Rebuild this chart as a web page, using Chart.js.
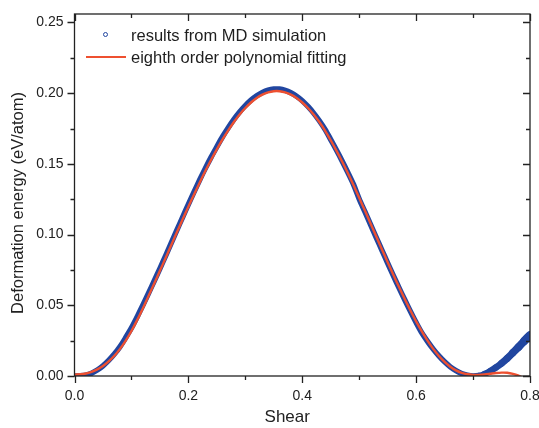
<!DOCTYPE html>
<html>
<head>
<meta charset="utf-8">
<script src="https://cdn.jsdelivr.net/npm/chart.js@4.4.1/dist/chart.umd.min.js"></script>
<style>
	html, body { margin: 0; padding: 0; background: #fff; }
	#wrap { position: relative; width: 539px; height: 428px; font-family: "Liberation Sans", Arial, sans-serif; }
	#legend { position: absolute; left: 84px; top: 24px; font-size: 16.5px; color: #1e1e1e; line-height: 22px; }
	#legend .row { display: flex; align-items: center; height: 22px; }
	#legend .sym { position: relative; width: 44px; height: 22px; margin-right: 3px; }
	#legend .dot { position: absolute; left: 19px; top: 8px; width: 3px; height: 3px; border: 1.2px solid #2146a0; border-radius: 50%; }
	#legend .ln { position: absolute; left: 2px; top: 10px; width: 40px; height: 2.4px; background: #ee5030; }
</style>
</head>
<body>
<div id="wrap">
	<canvas id="chart" width="539" height="428"></canvas>
	<div id="legend">
		<div class="row"><span class="sym"><span class="dot"></span></span>results from MD simulation</div>
		<div class="row"><span class="sym"><span class="ln"></span></span>eighth order polynomial fitting</div>
	</div>
</div>
<script>
( function () {
	'use strict';

	// shear values of the MD samples (every 0.01)
	var shear = [
		0.00, 0.01, 0.02, 0.03, 0.04, 0.05, 0.06, 0.07, 0.08, 0.09,
		0.10, 0.11, 0.12, 0.13, 0.14, 0.15, 0.16, 0.17, 0.18, 0.19,
		0.20, 0.21, 0.22, 0.23, 0.24, 0.25, 0.26, 0.27, 0.28, 0.29,
		0.30, 0.31, 0.32, 0.33, 0.34, 0.35, 0.36, 0.37, 0.38, 0.39,
		0.40, 0.41, 0.42, 0.43, 0.44, 0.45, 0.46, 0.47, 0.48, 0.49,
		0.50, 0.51, 0.52, 0.53, 0.54, 0.55, 0.56, 0.57, 0.58, 0.59,
		0.60, 0.61, 0.62, 0.63, 0.64, 0.65, 0.66, 0.67, 0.68, 0.69,
		0.70, 0.71, 0.72, 0.73, 0.74, 0.75, 0.76, 0.77, 0.78, 0.79,
		0.80
	];

	// MD deformation energy (eV/atom)
	var mdEnergy = [
		0.0000, 0.0001, 0.0006, 0.0020, 0.0042, 0.0072, 0.0110, 0.0155, 0.0208, 0.0272,
		0.0340, 0.0418, 0.0500, 0.0585, 0.0672, 0.0760, 0.0850, 0.0942, 0.1033, 0.1124,
		0.1214, 0.1302, 0.1388, 0.1470, 0.1548, 0.1621, 0.1692, 0.1756, 0.1815, 0.1867,
		0.1912, 0.1951, 0.1982, 0.2005, 0.2021, 0.2029, 0.2029, 0.2020, 0.2003, 0.1979,
		0.1947, 0.1906, 0.1859, 0.1805, 0.1744, 0.1672, 0.1598, 0.1521, 0.1440, 0.1355,
		0.1252, 0.1162, 0.1071, 0.0979, 0.0889, 0.0798, 0.0710, 0.0623, 0.0539, 0.0457,
		0.0378, 0.0305, 0.0245, 0.0190, 0.0142, 0.0100, 0.0065, 0.0038, 0.0018, 0.0006,
		0.0000, 0.0003, 0.0015, 0.0035, 0.0060, 0.0090, 0.0125, 0.0165, 0.0205, 0.0248,
		0.0290
	];

	// polynomial fit, stops a little before 0.8
	var fitShear = [
		0.00, 0.01, 0.02, 0.03, 0.04, 0.05, 0.06, 0.07, 0.08, 0.09,
		0.10, 0.11, 0.12, 0.13, 0.14, 0.15, 0.16, 0.17, 0.18, 0.19,
		0.20, 0.21, 0.22, 0.23, 0.24, 0.25, 0.26, 0.27, 0.28, 0.29,
		0.30, 0.31, 0.32, 0.33, 0.34, 0.35, 0.36, 0.37, 0.38, 0.39,
		0.40, 0.41, 0.42, 0.43, 0.44, 0.45, 0.46, 0.47, 0.48, 0.49,
		0.50, 0.51, 0.52, 0.53, 0.54, 0.55, 0.56, 0.57, 0.58, 0.59,
		0.60, 0.61, 0.62, 0.63, 0.64, 0.65, 0.66, 0.67, 0.68, 0.69,
		0.70, 0.71, 0.72, 0.73, 0.74, 0.75, 0.76, 0.77, 0.78, 0.785
	];
	var fitEnergy = [
		0.0010, 0.0012, 0.0018, 0.0030, 0.0047, 0.0071, 0.0103, 0.0143, 0.0192, 0.0250,
		0.0318, 0.0395, 0.0478, 0.0565, 0.0654, 0.0744, 0.0835, 0.0927, 0.1018, 0.1108,
		0.1197, 0.1284, 0.1369, 0.1451, 0.1529, 0.1603, 0.1673, 0.1737, 0.1796, 0.1849,
		0.1895, 0.1934, 0.1966, 0.1990, 0.2006, 0.2014, 0.2014, 0.2006, 0.1990, 0.1966,
		0.1934, 0.1895, 0.1849, 0.1796, 0.1736, 0.1667, 0.1594, 0.1517, 0.1436, 0.1350,
		0.1260, 0.1170, 0.1078, 0.0986, 0.0895, 0.0805, 0.0716, 0.0629, 0.0544, 0.0463,
		0.0386, 0.0315, 0.0250, 0.0192, 0.0142, 0.0100, 0.0066, 0.0040, 0.0022, 0.0012,
		0.0008, 0.0008, 0.0011, 0.0016, 0.0021, 0.0024, 0.0023, 0.0015, 0.0002, -0.0008
	];

	var xMajor = [ 0.0, 0.2, 0.4, 0.6, 0.8 ];
	var xMinor = [ 0.1, 0.3, 0.5, 0.7 ];
	var yMajor = [ 0.00, 0.05, 0.10, 0.15, 0.20, 0.25 ];
	var yMinor = [ 0.025, 0.075, 0.125, 0.175, 0.225 ];

	var X_TITLE = 'Shear';
	var Y_TITLE = 'Deformation energy (eV/atom)';

	var FONT  = '"Liberation Sans", Arial, sans-serif';
	var INK   = '#222';
	var BLUE  = '#2146a0';
	var RED   = '#ee5030';

	function points( xs, ys ) {
		var out = [];
		for ( var i = 0; i < xs.length; i++ ) {
			out.push( { x: xs[ i ], y: ys[ i ] } );
		}
		return out;
	}

	// the MD band fans out past the last minimum (more scatter there)
	function mdWidth( c ) {
		var x = c.p0.parsed.x;
		if ( x < 0.70 ) {
			return 5.5;
		}
		return 5.5 + ( x - 0.70 ) * 30;
	}

	// box frame plus Origin-style ticks: out on left/bottom, in on top/right.
	// Axis titles are drawn here too since Origin puts them a bit off-centre.
	var frameTicks = {
		id: 'frameTicks',
		afterDraw: function ( chart ) {
			var ctx  = chart.ctx;
			var a    = chart.chartArea;
			var xs   = chart.scales.x;
			var ys   = chart.scales.y;
			var i, p;

			ctx.save();
			ctx.strokeStyle = INK;
			ctx.lineWidth   = 1.3;
			ctx.strokeRect( a.left, a.top, a.right - a.left, a.bottom - a.top );

			ctx.beginPath();
			function xTick( v, len ) {
				p = Math.round( xs.getPixelForValue( v ) ) + 0.5;
				ctx.moveTo( p, a.bottom );
				ctx.lineTo( p, a.bottom + len );
				ctx.moveTo( p, a.top );
				ctx.lineTo( p, a.top + len );
			}
			function yTick( v, len ) {
				p = Math.round( ys.getPixelForValue( v ) ) + 0.5;
				ctx.moveTo( a.left, p );
				ctx.lineTo( a.left - len, p );
				ctx.moveTo( a.right, p );
				ctx.lineTo( a.right - len, p );
			}
			for ( i = 0; i < xMajor.length; i++ ) { xTick( xMajor[ i ], 7 ); }
			for ( i = 0; i < xMinor.length; i++ ) { xTick( xMinor[ i ], 4 ); }
			for ( i = 0; i < yMajor.length; i++ ) { yTick( yMajor[ i ], 7 ); }
			for ( i = 0; i < yMinor.length; i++ ) { yTick( yMinor[ i ], 4 ); }
			ctx.stroke();

			ctx.fillStyle    = INK;
			ctx.textAlign    = 'center';
			ctx.textBaseline = 'middle';
			ctx.font         = '17px ' + FONT;
			ctx.fillText( X_TITLE, ( a.left + a.right ) / 2 - 15, a.bottom + 41 );

			ctx.translate( 18, ( a.top + a.bottom ) / 2 + 8 );
			ctx.rotate( -Math.PI / 2 );
			ctx.font = '16.5px ' + FONT;
			ctx.fillText( Y_TITLE, 0, 0 );
			ctx.restore();
		},
	};

	new Chart( document.getElementById( 'chart' ), {
		type: 'line',
		data: {
			datasets: [
				{
					label:           'eighth order polynomial fitting',
					data:            points( fitShear, fitEnergy ),
					borderColor:     RED,
					backgroundColor: RED,
					borderWidth:     2.4,
					pointRadius:     0,
					tension:         0.3,
					clip:            0,
				},
				{
					label:           'results from MD simulation',
					data:            points( shear, mdEnergy ),
					borderColor:     BLUE,
					backgroundColor: BLUE,
					borderWidth:     5.5,
					borderCapStyle:  'round',
					borderJoinStyle: 'round',
					pointRadius:     0,
					tension:         0.3,
					clip:            0,
					segment:         { borderWidth: mdWidth },
				},
			],
		},
		options: {
			responsive: false,
			animation:  false,
			layout:     { padding: { top: 14, right: 9, left: 0, bottom: 0 } },
			plugins:    {
				legend:  { display: false },
				tooltip: { enabled: false },
			},
			scales: {
				x: {
					type:     'linear',
					position: 'bottom',
					min:      0,
					max:      0.8,
					grid:     { display: false, tickLength: 7 },
					border:   { display: false },
					ticks:    {
						stepSize:    0.2,
						padding:     5,
						maxRotation: 0,
						color:       INK,
						font:        { family: FONT, size: 14 },
						callback:    function ( v ) { return v.toFixed( 1 ); },
					},
					afterFit: function ( s ) {
						s.height       = 52;
						s.paddingLeft  = 0;
						s.paddingRight = 0;
					},
				},
				y: {
					type:   'linear',
					min:    0,
					max:    0.256,
					grid:   { display: false, tickLength: 7 },
					border: { display: false },
					ticks:  {
						stepSize:      0.05,
						includeBounds: false,
						padding:       4,
						color:         INK,
						font:          { family: FONT, size: 14 },
						callback:      function ( v ) { return v.toFixed( 2 ); },
					},
					afterFit: function ( s ) {
						s.width         = 74.5;
						s.paddingTop    = 0;
						s.paddingBottom = 0;
					},
				},
			},
		},
		plugins: [ frameTicks ],
	} );
} )();
</script>
</body>
</html>
